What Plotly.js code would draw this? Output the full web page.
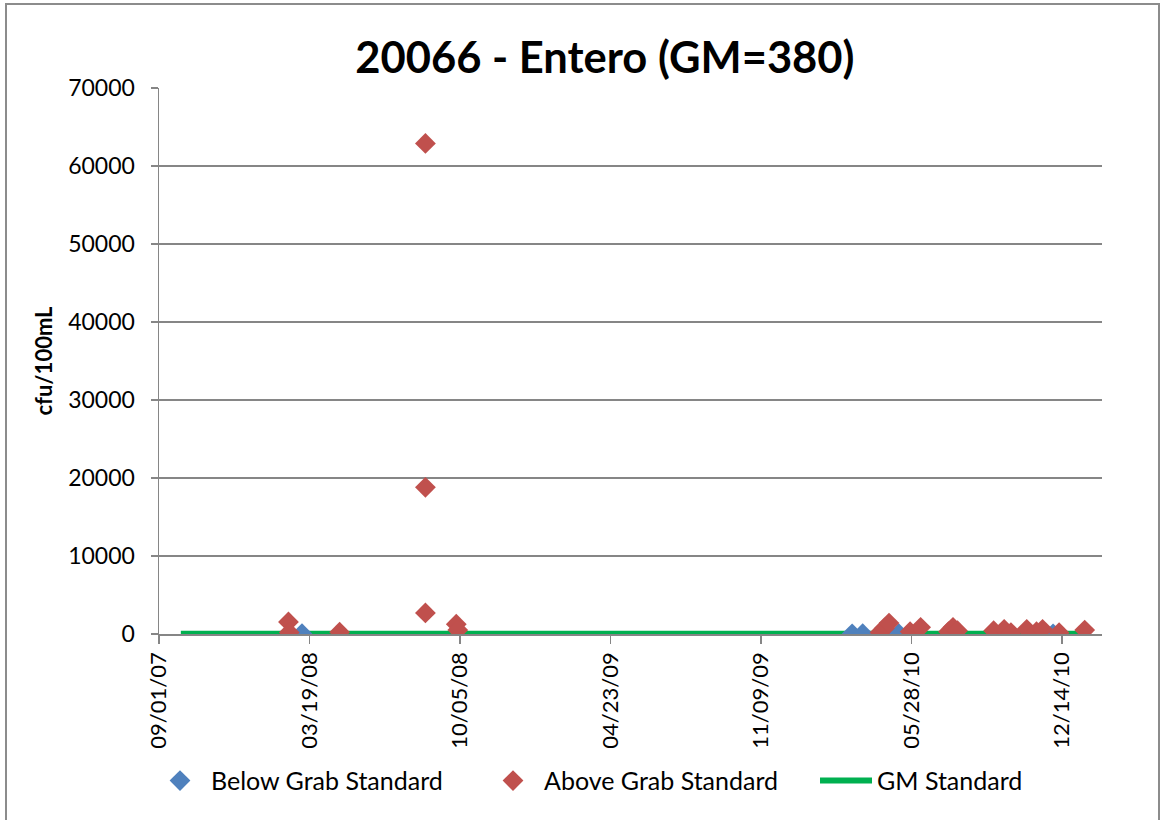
<!DOCTYPE html>
<html>
<head>
<meta charset="utf-8">
<script src="https://cdn.plot.ly/plotly-3.0.1.min.js"></script>
<style>
html, body { margin: 0; padding: 0; background: #fff; }
#wrap { position: relative; width: 1161px; height: 820px; overflow: hidden; }
#chart { width: 1161px; height: 820px; }
#frame { position: absolute; left: 5px; top: 3px; width: 1151px; height: 830px; border: 2px solid #8c8c8c; pointer-events: none; }
</style>
</head>
<body>
<div id="wrap"><div id="chart"></div><div id="frame"></div></div>
<script>
// Below Grab Standard samples
const belowDates = ['2008-03-09', '2010-03-10', '2010-03-24', '2010-05-11', '2010-12-02'];
const belowValues = [40, 20, 30, 40, 20];

// Above Grab Standard samples
const aboveDates = ['2008-02-20', '2008-02-21', '2008-04-28', '2008-08-20', '2008-08-20', '2008-08-20',
  '2008-09-30', '2008-10-02', '2010-04-16', '2010-04-22', '2010-04-28', '2010-05-26', '2010-06-09',
  '2010-07-16', '2010-07-22', '2010-07-28', '2010-09-14', '2010-09-28', '2010-10-07', '2010-10-28',
  '2010-11-10', '2010-11-18', '2010-12-10', '2011-01-13'];
const aboveValues = [1550, 200, 230, 2700, 18800, 62900,
  1250, 500, 200, 750, 1400, 300, 850,
  300, 850, 420, 420, 600, 170, 600,
  300, 600, 170, 500];

// GM Standard line
const gmDates = ['2007-09-30', '2011-01-13'];
const gmValues = [35, 35];

// Axis ticks
const xTickDates = ['2007-09-01', '2008-03-19', '2008-10-05', '2009-04-23', '2009-11-09', '2010-05-28', '2010-12-14'];
const xTickLabels = ['09/01/07', '03/19/08', '10/05/08', '04/23/09', '11/09/09', '05/28/10', '12/14/10'];
const xRange = ['2007-09-01', '2011-02-05'];
const yTicks = [0, 10000, 20000, 30000, 40000, 50000, 60000, 70000];
const yTickLabels = ['0', '10000', '20000', '30000', '40000', '50000', '60000', '70000'];

const FONT = 'Lato, "Open Sans", "DejaVu Sans", sans-serif';

const traces = [
  {
    x: gmDates, y: gmValues, type: 'scatter', mode: 'lines',
    name: 'GM Standard', legendrank: 3,
    line: { color: '#00B050', width: 6 }
  },
  {
    x: belowDates, y: belowValues, type: 'scatter', mode: 'markers',
    name: 'Below Grab Standard', legendrank: 1,
    marker: { symbol: 'diamond', size: 16, color: '#4F81BD', line: { width: 0 } }
  },
  {
    x: aboveDates, y: aboveValues, type: 'scatter', mode: 'markers',
    name: 'Above Grab Standard', legendrank: 2,
    marker: { symbol: 'diamond', size: 16, color: '#C0504D', line: { width: 0 } }
  }
];

const layout = {
  width: 1161, height: 820,
  margin: { l: 159, r: 59, t: 88, b: 186, autoexpand: false },
  paper_bgcolor: '#ffffff', plot_bgcolor: '#ffffff',
  font: { family: FONT, size: 22, color: '#000000' },
  title: {
    text: '<b>20066 - Entero (GM=380)</b>',
    font: { family: FONT, size: 43.5, color: '#000000' },
    x: 0.521, xref: 'container', xanchor: 'center',
    y: 0.929, yref: 'container', yanchor: 'middle'
  },
  xaxis: {
    type: 'date', range: xRange,
    tickvals: xTickDates, ticktext: xTickLabels,
    tickangle: -90,
    showgrid: false, zeroline: false,
    showline: true, linecolor: '#868686', linewidth: 1.5,
    ticks: 'outside', ticklen: 8, tickcolor: '#868686', tickwidth: 1.5,
    tickfont: { family: FONT, size: 22, color: '#000000' },
    automargin: false,
    fixedrange: true
  },
  yaxis: {
    range: [0, 70000], tickvals: yTicks, ticktext: yTickLabels,
    showgrid: true, gridcolor: '#868686', gridwidth: 1.5,
    zeroline: false,
    showline: true, linecolor: '#868686', linewidth: 1.5,
    ticks: 'outside', ticklen: 7, tickcolor: '#868686', tickwidth: 1.5,
    tickfont: { family: FONT, size: 23, color: '#000000' },
    ticklabelstandoff: 11,
    title: { text: '<b>cfu/100mL</b>', font: { family: FONT, size: 22, color: '#000000' }, standoff: 9 },
    automargin: false,
    fixedrange: true
  },
  showlegend: true,
  legend: {
    orientation: 'h',
    traceorder: 'normal',
    x: -0.0106, xref: 'paper', xanchor: 'left',
    y: -0.269, yref: 'paper', yanchor: 'middle',
    font: { family: FONT, size: 25, color: '#000000' },
    itemwidth: 52,
    entrywidth: 266, entrywidthmode: 'pixels',
    bgcolor: 'rgba(0,0,0,0)'
  }
};

Plotly.newPlot('chart', traces, layout, { staticPlot: true, displayModeBar: false });
</script>
</body>
</html>
